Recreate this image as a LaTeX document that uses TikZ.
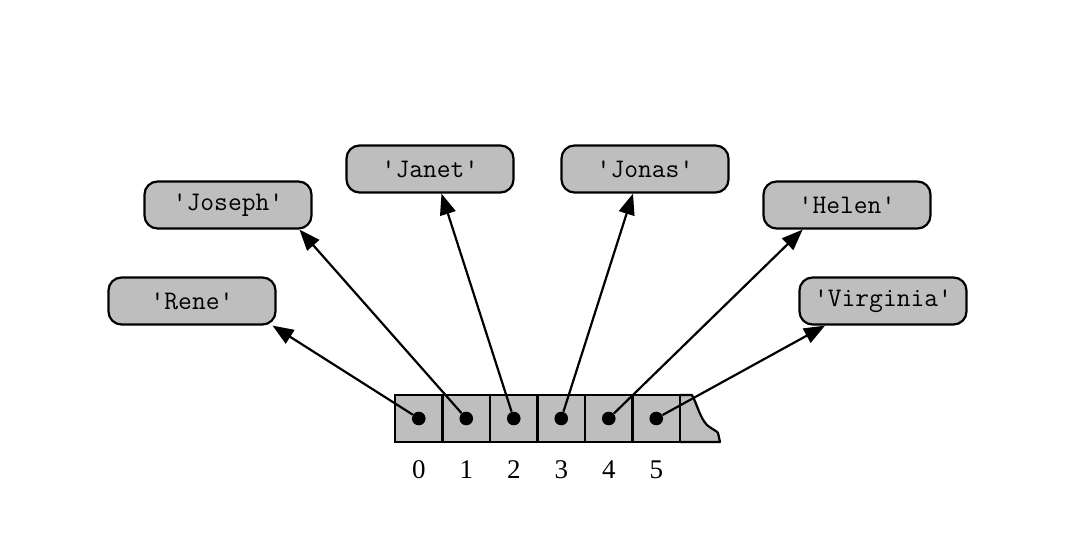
\documentclass[tikz,border=0pt]{standalone}
\usepackage{fontspec}
\setmainfont{Liberation Serif}
\usetikzlibrary{arrows.meta}
\definecolor{boxgray}{RGB}{190,190,190}
\newcommand\qq{\textquotesingle}
\begin{document}
\begin{tikzpicture}[x=0.5pt,y=-0.5pt,
 namebox/.style={draw=black, line width=1.1pt, fill=boxgray, rounded corners=6.5pt,
   minimum width=83.5pt, minimum height=23.5pt, inner sep=0pt,
   font=\ttfamily\fontsize{13.4}{15}\selectfont},
 cell/.style={draw=black, line width=1.1pt, fill=boxgray, minimum width=23.75pt,
   minimum height=23.5pt, inner sep=0pt},
 dot/.style={circle, fill=black, minimum size=6.8pt, inner sep=0pt},
 arr/.style={line width=1.1pt, -{Triangle[length=10.5pt,width=8pt]}},
 idx/.style={font=\fontsize{13.5}{16}\selectfont, inner sep=0pt}]
\useasboundingbox (0,0) rectangle (1085,544);

% name boxes
\node[namebox] (rene)     at (192,301) {\qq Rene\qq};
\node[namebox] (joseph)   at (228,205) {\qq Joseph\qq};
\node[namebox] (janet)    at (430,169) {\qq Janet\qq};
\node[namebox] (jonas)    at (645,169) {\qq Jonas\qq};
\node[namebox] (helen)    at (847,205) {\qq Helen\qq};
\node[namebox] (virginia) at (883,301) {\qq Virginia\qq};

% ragged end of the array
\draw[line width=1.1pt, fill=boxgray, line join=round]
  (680,395) -- (692,395)
  .. controls (697,404) and (700,418) .. (707,425)
  .. controls (713,430) and (717,431) .. (718,433)
  -- (720,442) -- (680,442);

% array cells, dots and indices
\foreach \i in {0,...,5} {
  \node[cell] (c\i) at ({418.75+47.5*\i},418.5) {};
  \node[dot] (d\i) at (c\i.center) {};
  \node[idx] (n\i) at ({418.75+47.5*\i},470) {\i};
}

% connectors
\draw[arr] (d0) -- (rene.-17);
\draw[arr] (d1) -- (joseph.-19);
\draw[arr] (d2) -- (janet.-65);
\draw[arr] (d3) -- (jonas.-116);
\draw[arr] (d4) -- (helen.-151.6);
\draw[arr] (d5) -- (virginia.-157.7);
\end{tikzpicture}
\end{document}
